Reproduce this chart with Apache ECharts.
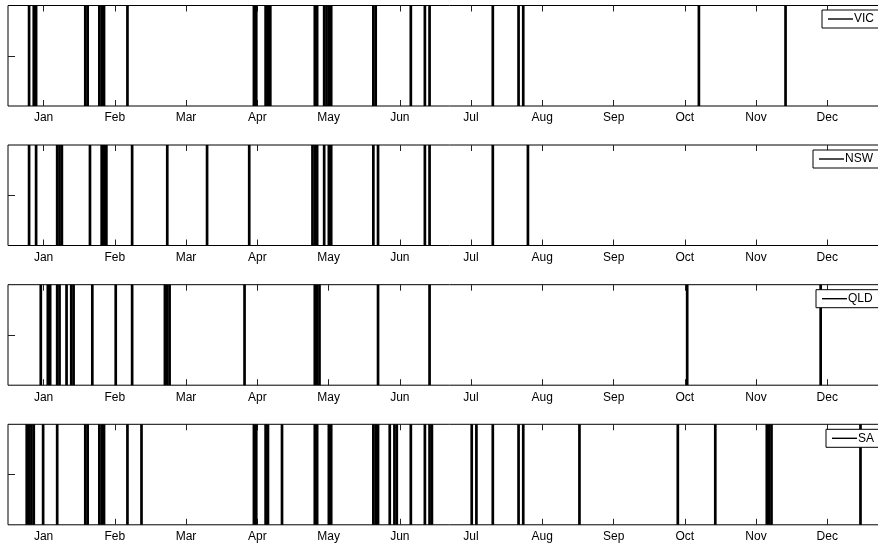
<!DOCTYPE html>
<html>
<head>
<meta charset="utf-8">
<script src="https://cdn.jsdelivr.net/npm/echarts@6/dist/echarts.min.js"></script>
<style>
html,body{margin:0;padding:0;background:#fff;overflow:hidden;}
#chart{width:900px;height:543px;}
</style>
</head>
<body>
<div id="chart"></div>
<script>
// Month tick labels and their positions (day of year, evenly spaced)
const monthLabels = ['Jan','Feb','Mar','Apr','May','Jun','Jul','Aug','Sep','Oct','Nov','Dec'];
const monthTicks = [15.2, 45.6, 76.0, 106.5, 136.9, 167.3, 197.7, 228.1, 258.6, 289.0, 319.4, 349.8];

// Event days (day of year) per state
const regions = ['VIC', 'NSW', 'QLD', 'SA'];
const vicDays = [9, 11, 12, 33, 34, 39, 40, 41, 51, 105, 106, 110, 111, 112, 131, 132, 135, 136, 137, 138, 156, 157, 172, 178, 180, 207, 218, 220, 295, 332];
const nswDays = [9, 12, 21, 22, 23, 35, 40, 41, 42, 53, 68, 85, 103, 130, 131, 132, 135, 137, 138, 156, 158, 178, 180, 207, 222];
const qldDays = [14, 17, 18, 21, 22, 25, 27, 28, 36, 46, 53, 67, 68, 69, 101, 131, 132, 133, 158, 180, 290, 347];
const saDays = [8, 9, 10, 11, 15, 21, 33, 34, 39, 40, 41, 51, 57, 105, 106, 110, 111, 117, 131, 132, 137, 138, 156, 157, 158, 163, 165, 166, 172, 178, 180, 181, 198, 200, 207, 218, 220, 244, 286, 302, 324, 325, 326, 364];
const allDays = [vicDays, nswDays, qldDays, saDays];

const xMax = 377;
const gridTops = [5.5, 145, 284.7, 424.3];
const gridH = 100.5;
const legendLefts = [822, 813, 816, 826];
const legendTopsOff = [4.5, 5, 5, 5];
const font = '"Liberation Sans", Arial, Helvetica, sans-serif';

const grids = [], xAxes = [], yAxes = [], series = [], legends = [];
regions.forEach((name, i) => {
  grids.push({
    left: 8, top: gridTops[i], width: xMax * 2.342, height: gridH,
    show: true, borderColor: '#000', borderWidth: 1, backgroundColor: 'transparent'
  });
  xAxes.push({
    type: 'value', gridIndex: i, position: 'bottom', min: 0, max: xMax,
    axisLine: { show: false },
    splitLine: { show: false },
    axisTick: { show: true, inside: true, length: 6, customValues: monthTicks, lineStyle: { color: '#222', width: 1 } },
    axisLabel: {
      show: true, customValues: monthTicks, margin: 6,
      color: '#000', fontSize: 12, fontFamily: font,
      formatter: v => { const k = monthTicks.findIndex(t => Math.abs(t - v) < 0.01); return k >= 0 ? monthLabels[k] : ''; }
    }
  });
  xAxes.push({
    type: 'value', gridIndex: i, position: 'top', min: 0, max: xMax,
    axisLine: { show: false },
    splitLine: { show: false },
    axisTick: { show: true, inside: true, length: 6, customValues: monthTicks, lineStyle: { color: '#222', width: 1 } },
    axisLabel: { show: false }
  });
  yAxes.push({
    type: 'value', gridIndex: i, min: 0, max: 1,
    axisLine: { show: false }, splitLine: { show: false },
    axisTick: { show: true, inside: true, length: 7, customValues: [0.5], lineStyle: { color: '#222', width: 1 } },
    axisLabel: { show: false }
  });
  series.push({
    name: name, type: 'bar', xAxisIndex: i * 2, yAxisIndex: i,
    barWidth: 2.7, barGap: '-100%',
    itemStyle: { color: '#000' },
    data: allDays[i].map(d => [d, 1]),
    silent: true
  });
  legends.push({
    data: [name], left: legendLefts[i], top: gridTops[i] + legendTopsOff[i],
    orient: 'horizontal', icon: 'rect', itemWidth: 25, itemHeight: 1.4, itemGap: 0,
    padding: [3, 30, 3, 6], backgroundColor: '#fff', borderColor: '#000', borderWidth: 1, borderRadius: 0,
    textStyle: { color: '#000', fontSize: 12, fontFamily: font, padding: [0, 0, 0, -4] },
    selectedMode: false
  });
});

const chart = echarts.init(document.getElementById('chart'), null, { renderer: 'canvas' });
chart.setOption({
  animation: false,
  backgroundColor: '#fff',
  grid: grids, xAxis: xAxes, yAxis: yAxes, series: series, legend: legends
});
</script>
</body>
</html>
